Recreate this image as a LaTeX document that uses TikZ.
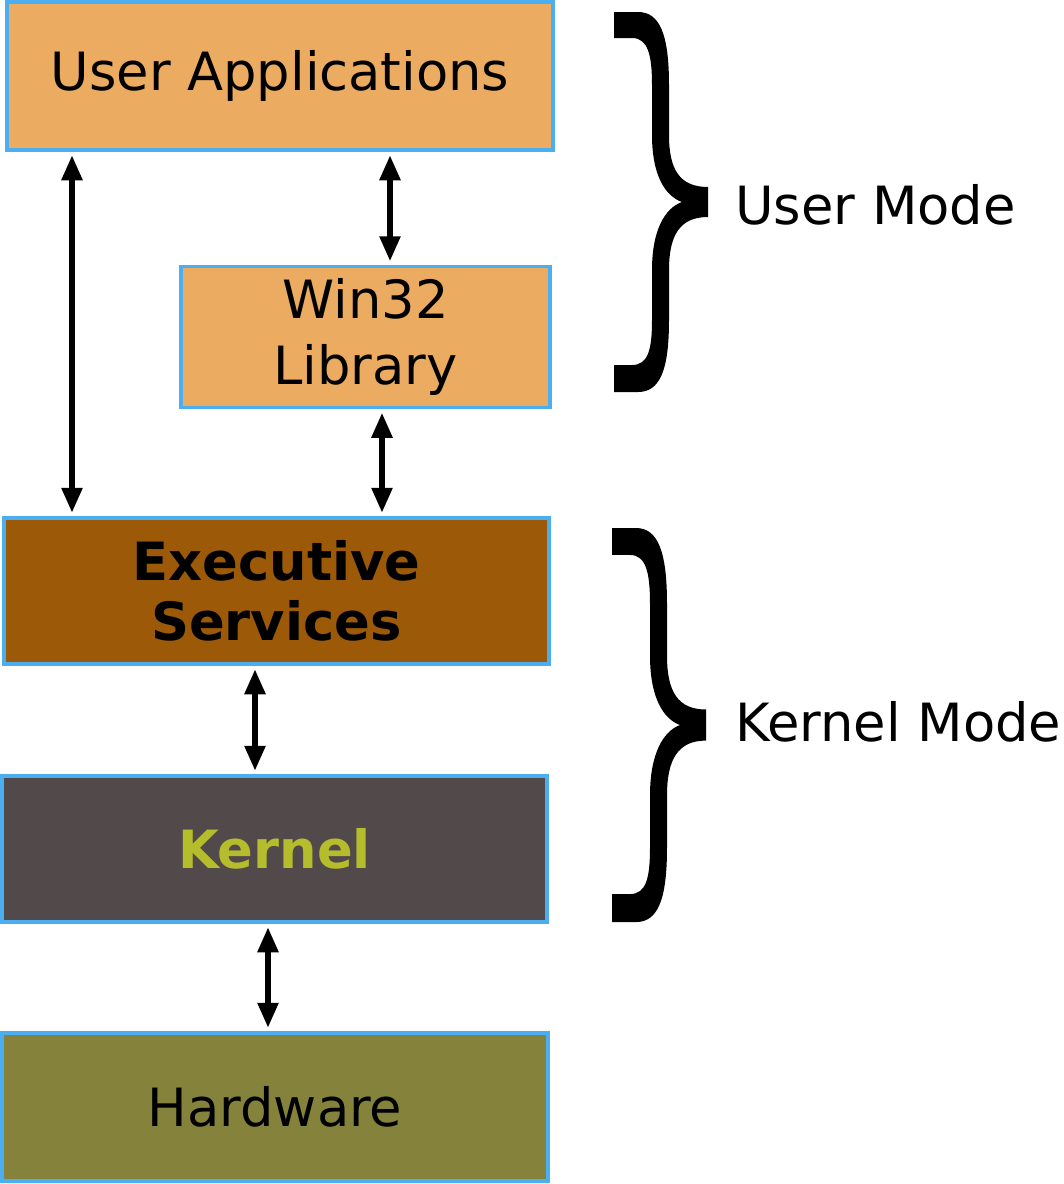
\documentclass[tikz,border=0pt]{standalone}
\usepackage{fontspec}
\setmainfont{DejaVu Sans}
\usetikzlibrary{arrows.meta}
\definecolor{apporange}{HTML}{EBAB60}
\definecolor{edgeblue}{HTML}{4AAEF0}
\definecolor{execbrown}{HTML}{9C5A09}
\definecolor{kerngray}{HTML}{52494A}
\definecolor{kerntext}{HTML}{B5BD2C}
\definecolor{hwolive}{HTML}{85833B}
\tikzset{
  layer/.style={draw=edgeblue,line width=0.07cm,inner sep=0pt,align=center,
    font=\fontsize{30}{38}\selectfont},
  link/.style={line width=0.11cm,{Triangle[length=0.5cm,width=0.4cm]}-{Triangle[length=0.5cm,width=0.4cm]},
    shorten <=2pt,shorten >=2pt},
  modelabel/.style={anchor=west,inner sep=0pt,font=\fontsize{30}{37}\selectfont},
  modebrace/.pic={
    \fill (0,0) -- (24,0) .. controls (46,0) and (55,23) .. (55,73) -- (55,123)
      .. controls (55,158) and (66,175) .. (94,175) -- (94,205)
      .. controls (66,205) and (55,223) .. (55,258) -- (55,308)
      .. controls (55,358) and (46,380) .. (24,380) -- (0,380) -- (0,353) -- (18,353)
      .. controls (34,353) and (38,338) .. (38,308) -- (38,258)
      .. controls (38,218) and (51,196) .. (68,190)
      .. controls (51,184) and (38,163) .. (38,123) -- (38,73)
      .. controls (38,43) and (34,26) .. (18,26) -- (0,26) -- cycle;
  }
}
\begin{document}
\begin{tikzpicture}[x=0.02cm,y=-0.02cm]
\useasboundingbox (0,0) rectangle (1063,1184);
% layers
\node[layer,fill=apporange,minimum width=10.92cm,minimum height=2.96cm] (apps) at (280,76) {User Applications};
\node[layer,fill=apporange,minimum width=7.38cm,minimum height=2.82cm] (win) at (365.5,337) {Win32\\Library};
\node[layer,fill=execbrown,minimum width=10.9cm,minimum height=2.92cm,font=\fontsize{30}{34}\selectfont\bfseries] (exec) at (276.5,591) {Executive\\Services};
\node[layer,fill=kerngray,text=kerntext,minimum width=10.9cm,minimum height=2.92cm,font=\fontsize{30}{37}\selectfont\bfseries] (kern) at (274.5,849) {Kernel};
\node[layer,fill=hwolive,minimum width=10.92cm,minimum height=2.96cm] (hw) at (275,1107) {Hardware};
% calls between layers
\draw[link] (apps.south -| 72,0) -- (exec.north -| 72,0);
\draw[link] (apps.south -| 390,0) -- (win.north -| 390,0);
\draw[link] (win.south -| 382,0) -- (exec.north -| 382,0);
\draw[link] (exec.south -| 255,0) -- (kern.north -| 255,0);
\draw[link] (kern.south -| 268,0) -- (hw.north -| 268,0);
% modes
\pic at (614,12) {modebrace};
\pic[yscale=1.037] at (612,528) {modebrace};
\node[modelabel] (usermode) at (735,205) {User Mode};
\node[modelabel] (kernelmode) at (735,722) {Kernel Mode};
\end{tikzpicture}
\end{document}
